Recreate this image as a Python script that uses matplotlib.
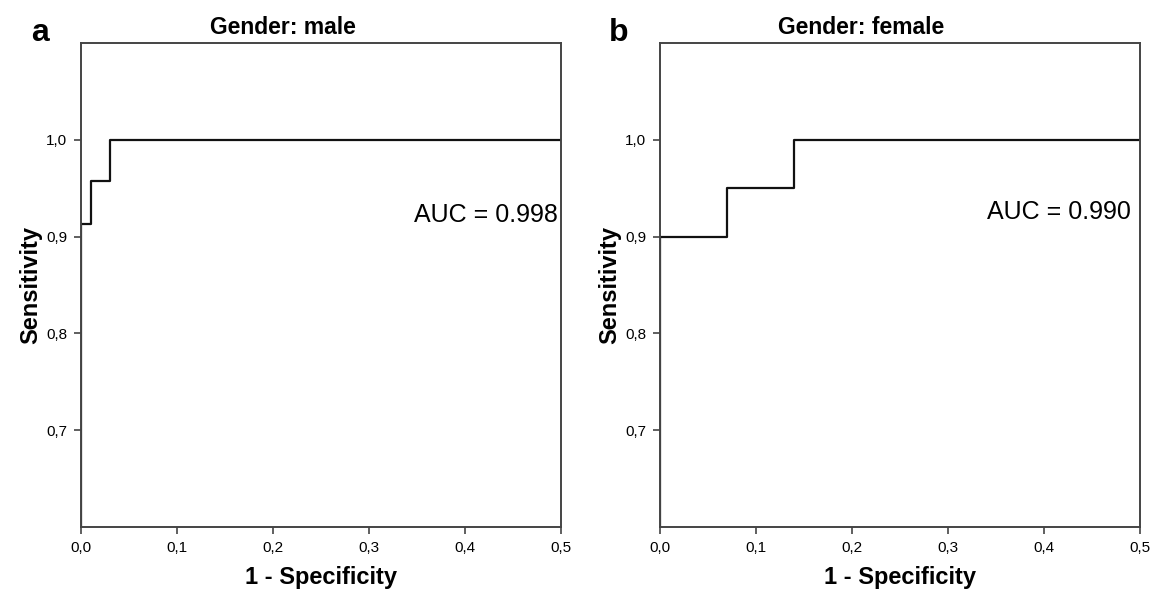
import matplotlib
matplotlib.use('Agg')
import matplotlib.pyplot as plt
from matplotlib.ticker import FuncFormatter

plt.rcParams['font.family'] = ['Liberation Sans', 'DejaVu Sans']

# ROC step points (1 - specificity, sensitivity)
male_fpr = [0.0, 0.0, 0.01, 0.01, 0.03, 0.03, 0.5]
male_tpr = [0.0, 0.913, 0.913, 0.957, 0.957, 1.0, 1.0]
female_fpr = [0.0, 0.0, 0.07, 0.07, 0.14, 0.14, 0.5]
female_tpr = [0.0, 0.9, 0.9, 0.95, 0.95, 1.0, 1.0]

panels = ['a', 'b']
titles = ['Gender: male', 'Gender: female']
auc_labels = ['AUC = 0.998', 'AUC = 0.990']
x_ticks = [0.0, 0.1, 0.2, 0.3, 0.4, 0.5]
y_ticks = [0.7, 0.8, 0.9, 1.0]

fig = plt.figure(figsize=(11.51, 5.92), dpi=100)
W, H = 1151, 592

def comma(v, pos):
    return f'{v:.1f}'.replace('.', ',')

data = [(male_fpr, male_tpr), (female_fpr, female_tpr)]
lefts = [81, 660]
auc_pos = [(0.497, 0.9225), (0.490, 0.925)]

for i in range(2):
    ax = fig.add_axes([lefts[i] / W, 1 - 527 / H, 480 / W, 484 / H])
    fpr, tpr = data[i]
    ax.plot(fpr, tpr, color='#111111', lw=1.6)
    ax.set_xlim(0, 0.5)
    ax.set_ylim(0.6, 1.1)
    ax.set_xticks(x_ticks)
    ax.set_yticks(y_ticks)
    ax.xaxis.set_major_formatter(FuncFormatter(comma))
    ax.yaxis.set_major_formatter(FuncFormatter(comma))
    for s in ax.spines.values():
        s.set_color('#444444')
        s.set_linewidth(1.4)
    ax.tick_params(direction='out', length=5, width=1.2, color='#444444',
                   labelsize=11, pad=5)
    ax.set_xlabel('1 - Specificity', fontsize=17, fontweight='bold', labelpad=8)
    ax.set_ylabel('Sensitivity', fontsize=17, fontweight='bold', labelpad=3)
    ax.text(0.42, 1.008, titles[i], transform=ax.transAxes, ha='center', va='bottom',
            fontsize=16.5, fontweight='bold')
    ax.text(auc_pos[i][0], auc_pos[i][1], auc_labels[i], ha='right', va='center',
            fontsize=18)
    fig.text((lefts[i] - 41) / W, 1 - 33 / H, panels[i], ha='center', va='center',
             fontsize=23, fontweight='bold')

fig.savefig('out.png', dpi=100)
